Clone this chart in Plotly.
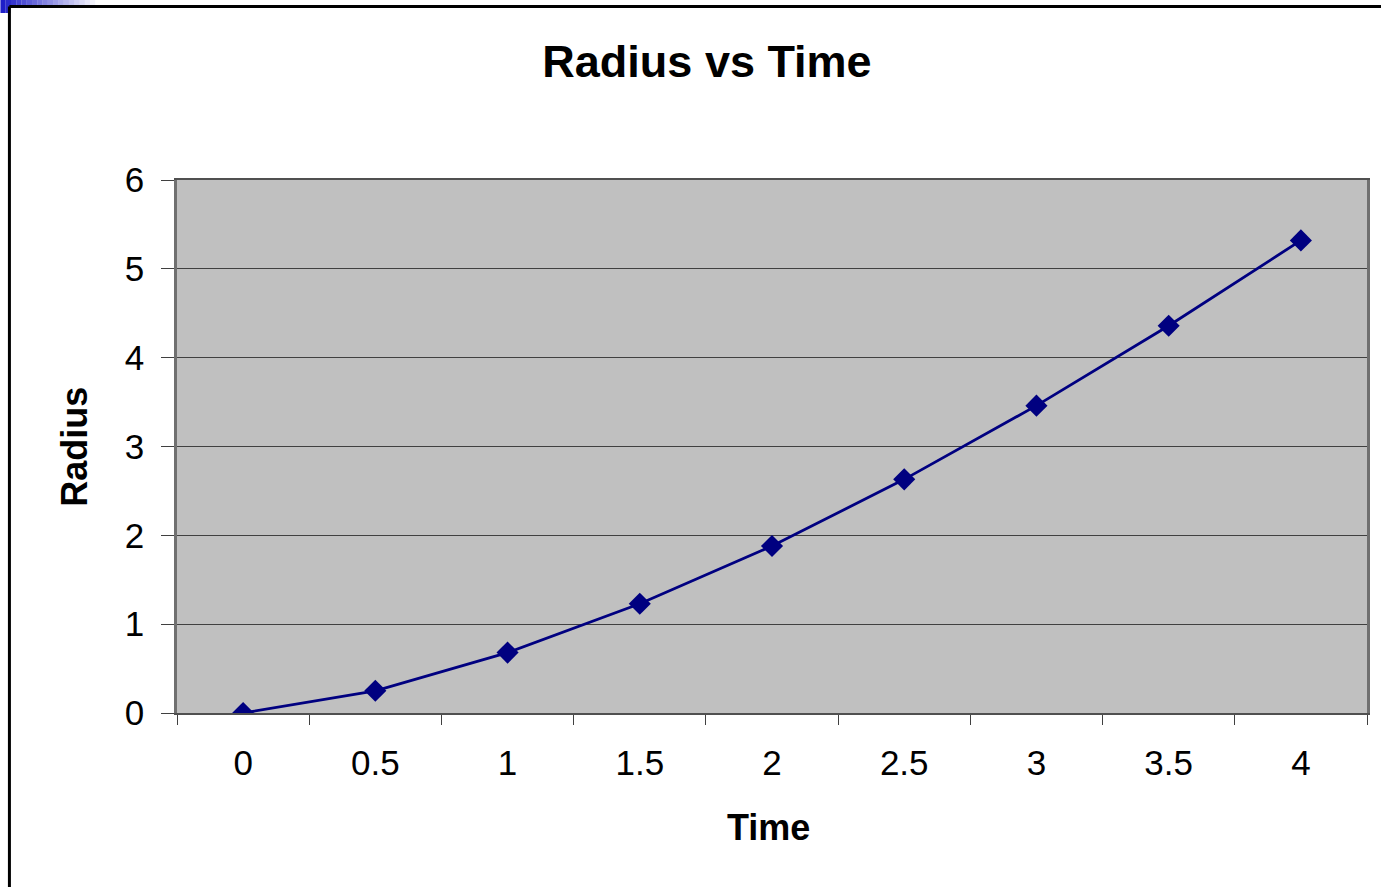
import plotly.graph_objects as go

# ---- data ----
time_values = [0, 0.5, 1, 1.5, 2, 2.5, 3, 3.5, 4]
radius_values = [0, 0.25, 0.68, 1.23, 1.88, 2.63, 3.46, 4.36, 5.32]

chart_title = "Radius vs Time"
x_title = "Time"
y_title = "Radius"

FONT = "Liberation Sans, Arial, sans-serif"
NAVY = "#000080"

fig = go.Figure()
fig.add_trace(go.Scatter(
    x=time_values, y=radius_values,
    mode="lines+markers",
    line=dict(color=NAVY, width=2.8),
    marker=dict(symbol="diamond", size=17, color=NAVY),
    showlegend=False,
))

W, H = 1381, 887
L, R, T, B = 177, 11, 180, 174
pw, ph = W - L - R, H - T - B

def px_x(p):
    return (p - L) / pw

def px_y(p):
    return (H - B - p) / ph

shapes = []
# blue gradient strip at top-left corner
steps = 18
for i in range(steps):
    x0 = i * 95 / steps
    x1 = (i + 1) * 95 / steps
    shapes.append(dict(type="rect", xref="paper", yref="paper",
                       x0=px_x(x0), x1=px_x(x1), y0=px_y(13), y1=px_y(0),
                       fillcolor="rgba(30,30,200,%.3f)" % (1 - i / steps),
                       line=dict(width=0), layer="above"))
# white inside frame over the strip
shapes.append(dict(type="rect", xref="paper", yref="paper",
                   x0=px_x(10), x1=px_x(100), y0=px_y(14), y1=px_y(7),
                   fillcolor="white", line=dict(width=0), layer="above"))
# outer frame lines
shapes.append(dict(type="line", xref="paper", yref="paper",
                   x0=px_x(9), x1=px_x(W + 20), y0=px_y(6.5), y1=px_y(6.5),
                   line=dict(color="black", width=3), layer="above"))
shapes.append(dict(type="line", xref="paper", yref="paper",
                   x0=px_x(9), x1=px_x(9), y0=px_y(6.5), y1=px_y(H + 20),
                   line=dict(color="black", width=3), layer="above"))

fig.update_layout(
    width=W, height=H,
    margin=dict(l=L, r=R, t=T, b=B, pad=0),
    paper_bgcolor="white",
    plot_bgcolor="#C0C0C0",
    font=dict(family=FONT, color="black"),
    title=dict(text="<b>%s</b>" % chart_title, x=707 / W, xanchor="center",
               y=1 - 61 / H, yanchor="middle",
               font=dict(family=FONT, size=45, color="black")),
    shapes=shapes,
    annotations=[
        dict(text="<b>%s</b>" % x_title, xref="paper", yref="paper",
             x=px_x(770), y=px_y(827), xanchor="center", yanchor="middle",
             showarrow=False, font=dict(family=FONT, size=36, color="black")),
        dict(text="<b>%s</b>" % y_title, xref="paper", yref="paper",
             x=px_x(74), y=0.5, xanchor="center", yanchor="middle",
             textangle=-90, showarrow=False,
             font=dict(family=FONT, size=36, color="black")),
    ],
)

fig.update_xaxes(
    range=[-0.25, 4.25],
    tickmode="linear", tick0=0, dtick=0.5,
    ticks="", ticklen=0,
    ticklabelstandoff=18,
    tickfont=dict(family=FONT, size=35, color="black"),
    showgrid=False, zeroline=False,
    showline=True, linecolor="#505050", linewidth=2, mirror=True,
    minor=dict(tick0=0.25, dtick=0.5, ticks="outside", ticklen=10,
               tickcolor="#404040", tickwidth=1, showgrid=False),
)
fig.update_yaxes(
    range=[0, 6],
    tickmode="linear", tick0=0, dtick=1,
    ticks="outside", ticklen=13, tickcolor="#404040", tickwidth=1,
    ticklabelstandoff=10,
    tickfont=dict(family=FONT, size=35, color="black"),
    showgrid=True, gridcolor="#404040", gridwidth=1,
    zeroline=False,
    showline=True, linecolor="#707070", linewidth=2.5, mirror=True,
)

fig.write_html("out.html",
               config={"displayModeBar": False},
               post_script="document.body.style.margin='0';document.body.style.overflow='hidden';")
